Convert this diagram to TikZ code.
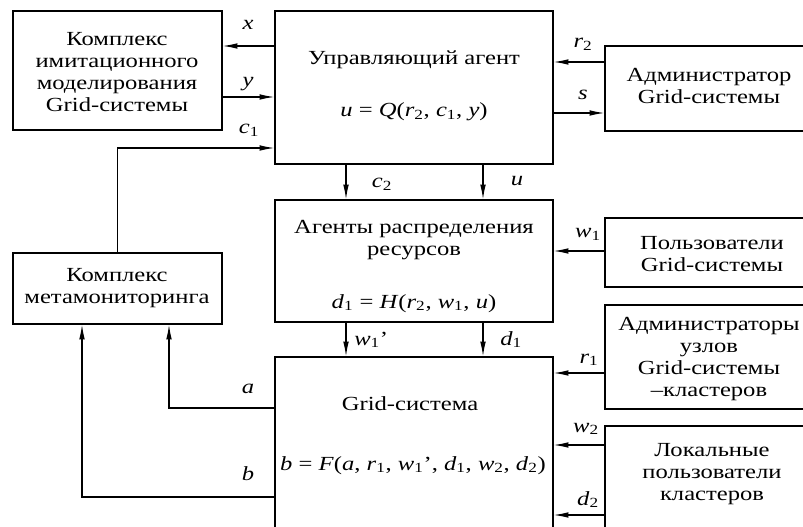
\documentclass[tikz,border=0pt]{standalone}
\usepackage{fontspec}
\setmainfont{Liberation Serif}[FakeStretch=1.23]
\usetikzlibrary{arrows.meta,fit}
\newcommand\myi[1]{\textit{#1}}
\newcommand\mysb[1]{\textsubscript{#1}}
\begin{document}
\begin{tikzpicture}[x=0.75pt,y=-0.75pt,
  box/.style={draw,line width=0.95pt,inner sep=0pt},
  txt/.style={font=\fontsize{15}{16.5}\selectfont,align=center,inner sep=0pt},
  lab/.style={font=\fontsize{15}{16.5}\selectfont,inner sep=0pt,anchor=base},
  arr/.style={line width=0.9pt,-{Latex[length=11pt,width=4.2pt]}}]
\useasboundingbox (0,0) rectangle (803,527);
\clip (0,0) rectangle (803,527);
% boxes
\node[box,fit={(13,11) (222,130)}] (b1) {};
\node[box,fit={(275,11) (553,164)}] (b2) {};
\node[box,fit={(605,46) (830,131)}] (b3) {};
\node[box,fit={(275,200) (553,322)}] (b4) {};
\node[box,fit={(275,357) (553,560)}] (b5) {};
\node[box,fit={(13,253) (222,324)}] (b6) {};
\node[box,fit={(605,218) (830,287)}] (b7) {};
\node[box,fit={(605,305) (830,409)}] (b8) {};
\node[box,fit={(605,426) (830,560)}] (b9) {};
% texts
\node[txt] (t1) at (117,72) {Комплекс\\имитационного\\моделирования\\Grid-системы};
\node[txt,anchor=base] (t2) at (414,65) {Управляющий агент};
\node[txt,anchor=base] (f2) at (414,117) {\myi{u} = \myi{Q}(\myi{r}\mysb{2}, \myi{c}\mysb{1}, \myi{y})};
\node[txt] (t3) at (709,86) {Администратор\\Grid-системы};
\node[txt] (t4) at (414,240) {Агенты распределения\\ресурсов};
\node[txt,anchor=base] (f4) at (414,308) {\myi{d}\mysb{1} = \myi{H}(\myi{r}\mysb{2}, \myi{w}\mysb{1}, \myi{u})};
\node[txt,anchor=base] (t5) at (410,410) {Grid-система};
\node[txt,anchor=base] (f5) at (413,470) {\myi{b} = \myi{F}(\myi{a}, \myi{r}\mysb{1}, \myi{w}\mysb{1}', \myi{d}\mysb{1}, \myi{w}\mysb{2}, \myi{d}\mysb{2})};
\node[txt] (t6) at (117,288) {Комплекс\\метамониторинга};
\node[txt] (t7) at (712,254) {Пользователи\\Grid-системы};
\node[txt] (t8) at (709,359) {Администраторы\\узлов\\Grid-системы\\–кластеров};
\node[txt] (t9) at (712,474) {Локальные\\пользователи\\кластеров};
% connectors
\draw[arr] (b2.west |- 0,46) -- (b1.east |- 0,46);
\draw[arr] (b1.east |- 0,97) -- (b2.west |- 0,97);
\draw[arr] (b6.north) |- (b2.west |- 0,148);
\draw[arr] (b3.west |- 0,62) -- (b2.east |- 0,62);
\draw[arr] (b2.east |- 0,113) -- (b3.west |- 0,113);
\draw[arr] (b2.south -| 346,0) -- (b4.north -| 346,0);
\draw[arr] (b2.south -| 483,0) -- (b4.north -| 483,0);
\draw[arr] (b4.south -| 346,0) -- (b5.north -| 346,0);
\draw[arr] (b4.south -| 483,0) -- (b5.north -| 483,0);
\draw[arr] (b7.west |- 0,251) -- (b4.east |- 0,251);
\draw[arr] (b8.west |- 0,373) -- (b5.east |- 0,373);
\draw[arr] (b9.west |- 0,445) -- (b5.east |- 0,445);
\draw[arr] (b9.west |- 0,515) -- (b5.east |- 0,515);
\draw[arr] (b5.west |- 0,408) -| (b6.south -| 169,0);
\draw[arr] (b5.west |- 0,497) -| (b6.south -| 82,0);
% labels
\node[lab] (lx) at (248,30) {\myi{x}};
\node[lab] (ly) at (248,87) {\myi{y}};
\node[lab] (lc1) at (249,134) {\myi{c}\mysb{1}};
\node[lab] (lr2) at (583,48) {\myi{r}\mysb{2}};
\node[lab] (ls) at (583,100) {\myi{s}};
\node[lab] (lc2) at (382,188) {\myi{c}\mysb{2}};
\node[lab] (lu) at (517,186) {\myi{u}};
\node[lab,anchor=base west] (lw1p) at (354,345) {\myi{w}\mysb{1}'};
\node[lab,anchor=base west] (ld1) at (500,345) {\myi{d}\mysb{1}};
\node[lab] (lw1) at (588,238) {\myi{w}\mysb{1}};
\node[lab] (lr1) at (589,363) {\myi{r}\mysb{1}};
\node[lab] (lw2) at (586,432) {\myi{w}\mysb{2}};
\node[lab] (ld2) at (588,505) {\myi{d}\mysb{2}};
\node[lab] (la) at (248,393) {\myi{a}};
\node[lab] (lb) at (248,480) {\myi{b}};
\end{tikzpicture}
\end{document}
